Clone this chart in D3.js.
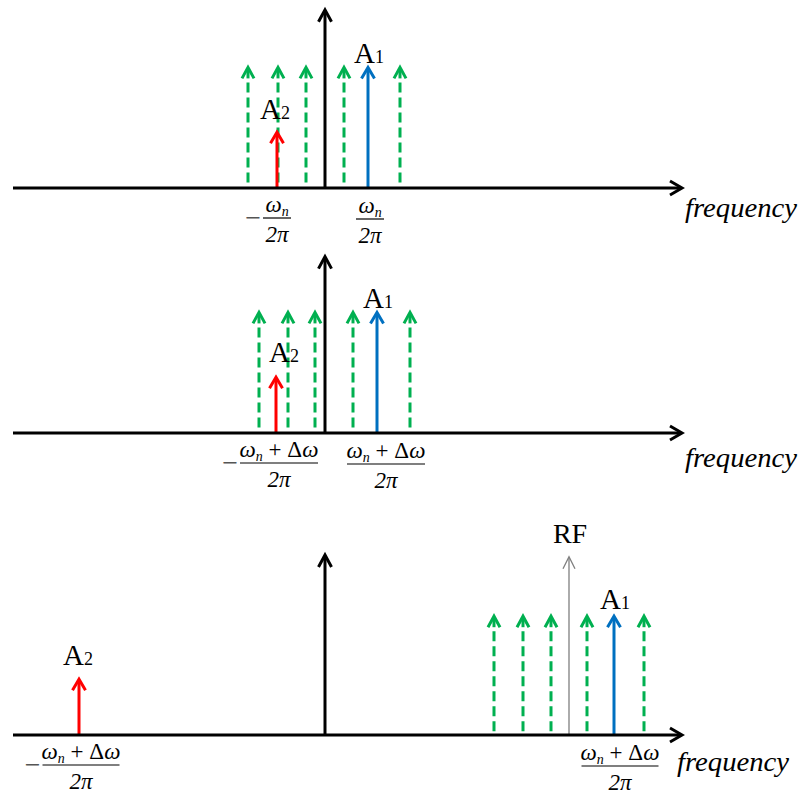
<!DOCTYPE html>
<html>
<head>
<meta charset="utf-8">
<script src="https://cdn.jsdelivr.net/npm/d3@7"></script>
<style>
  body { margin: 0; background: #fff; }
  svg { display: block; }
  text { font-family: "Liberation Serif", "DejaVu Serif", "Times New Roman", serif; }
</style>
</head>
<body>
<script>
// Spectrum data for the three panels (frequency in arbitrary units, amplitude 0..1)
const combFreqs = [
  [-77, -47, -19, 19, 75],
  [-66, -37, -10, 28, 85],
  [169, 198, 226, 262, 319]
];
const combAmp = [0.67, 0.67, 0.66];
const toneA1Freq = [43, 52, 289];
const toneA1Amp = [0.67, 0.67, 0.66];
const toneA2Freq = [-48, -49, -246];
const toneA2Amp = [0.31, 0.31, 0.31];
const rfFreq = [null, null, 244];
const rfAmp = [null, null, 0.99];
const axisAmp = [0.99, 0.98, 1.0];

// Tick labels: ±(numerator)/2π at these frequencies
const tickNegFreq = [-48, -46, -244];
const tickPosFreq = [45, 61, 295];
const tickNumerators = ["ωn", "ωn+Δω", "ωn+Δω"];
const axisTitle = "frequency";

const W = 804, H = 794;
const svg = d3.select("body").append("svg").attr("width", W).attr("height", H);

const x = d3.scaleLinear().domain([-312, 357]).range([13, 682]);
const amp = d3.scaleLinear().domain([0, 1]).range([0, 180]);

const baselines = [188, 433, 735];
const GREEN = "#00B050", RED = "#FF0000", BLUE = "#0070C0", GRAY = "#7F7F7F";

// Vertical arrow with an open chevron head
function vArrow(g, fx, y0, a, color, width, dashed, hw, hh) {
  const px = x(fx), tip = y0 - amp(a);
  if (dashed) {
    g.append("line").attr("x1", px).attr("x2", px)
      .attr("y1", tip + 15).attr("y2", y0)
      .attr("stroke", color).attr("stroke-width", width)
      .attr("stroke-dasharray", "10,5");
    g.append("line").attr("x1", px).attr("x2", px)
      .attr("y1", tip + 1).attr("y2", tip + 11)
      .attr("stroke", color).attr("stroke-width", width);
  } else {
    g.append("line").attr("x1", px).attr("x2", px)
      .attr("y1", tip + 1).attr("y2", y0)
      .attr("stroke", color).attr("stroke-width", width);
  }
  g.append("path")
    .attr("d", `M${px - hw},${tip + hh} L${px},${tip} L${px + hw},${tip + hh}`)
    .attr("fill", "none").attr("stroke", color).attr("stroke-width", width)
    .attr("stroke-linejoin", "miter");
  return { px, tip };
}

function ampLabel(g, px, baseY, sub) {
  const t = g.append("text").attr("x", px).attr("y", baseY)
    .attr("text-anchor", "middle").attr("fill", "#000");
  t.append("tspan").attr("font-size", 29).text("A");
  t.append("tspan").attr("font-size", 18).text(sub);
}

function fraction(g, cx, barY, num, barW, negative) {
  const fg = g.append("g").attr("fill", "#000");
  const t = fg.append("text").attr("x", cx).attr("y", barY - 6)
    .attr("text-anchor", "middle").attr("font-size", 23);
  t.append("tspan").attr("font-style", "italic").text(num[0]);
  t.append("tspan").attr("font-style", "italic").attr("font-size", 14)
    .attr("dy", 4).text(num[1]);
  if (num.length > 2) {
    t.append("tspan").attr("dy", -4).text(" + Δ");
    t.append("tspan").attr("font-style", "italic").text("ω");
  }
  fg.append("line").attr("x1", cx - barW / 2).attr("x2", cx + barW / 2)
    .attr("y1", barY).attr("y2", barY).attr("stroke", "#000").attr("stroke-width", 1.2);
  fg.append("text").attr("x", cx).attr("y", barY + 24)
    .attr("text-anchor", "middle").attr("font-size", 23).attr("font-style", "italic")
    .text("2π");
  if (negative) {
    fg.append("text").attr("x", cx - barW / 2 - 2).attr("y", barY + 9)
      .attr("text-anchor", "end").attr("font-size", 28).attr("fill", "#555").text("−");
  }
}

const a2dx = [-2, 8, -1];
const a2gap = [13, 15, 14];
const a1gap = [4, 4, 7];
const fracBarW = [28, 78, 77];
const titlePos = [[685, 217], [685, 467], [677, 771]];

baselines.forEach((y0, i) => {
  const g = svg.append("g");

  // comb lines
  combFreqs[i].forEach(f => vArrow(g, f, y0, combAmp[i], GREEN, 3, true, 6, 11));

  // RF carrier
  if (rfFreq[i] !== null) {
    const r = vArrow(g, rfFreq[i], y0, rfAmp[i], GRAY, 1.3, false, 6, 12);
    g.append("text").attr("x", r.px + 1).attr("y", r.tip - 14)
      .attr("text-anchor", "middle")
      .attr("font-size", 28).attr("fill", "#000").text("RF");
  }

  // tones
  const a2 = vArrow(g, toneA2Freq[i], y0, toneA2Amp[i], RED, 3, false, 6.5, 11);
  ampLabel(g, a2.px + a2dx[i], a2.tip - a2gap[i], "2");
  const a1 = vArrow(g, toneA1Freq[i], y0, toneA1Amp[i], BLUE, 3, false, 6.5, 11);
  ampLabel(g, a1.px + 1, a1.tip - a1gap[i], "1");

  // frequency axis
  const x0 = x.range()[0], x1 = x.range()[1];
  g.append("line").attr("x1", x0).attr("x2", x1 - 1).attr("y1", y0).attr("y2", y0)
    .attr("stroke", "#000").attr("stroke-width", 3);
  g.append("path").attr("d", `M${x1 - 12},${y0 - 7} L${x1},${y0} L${x1 - 12},${y0 + 7}`)
    .attr("fill", "none").attr("stroke", "#000").attr("stroke-width", 3);

  // amplitude axis at zero frequency
  vArrow(g, 0, y0, axisAmp[i], "#000", 3, false, 6.5, 12);

  // tick labels
  const num = tickNumerators[i];
  const parts = num.includes("+") ? ["ω", "n", "+Δω"] : ["ω", "n"];
  fraction(g, x(tickNegFreq[i]), y0 + 30, parts, fracBarW[i], true);
  fraction(g, x(tickPosFreq[i]), y0 + 31, parts, fracBarW[i], false);

  g.append("text").attr("x", titlePos[i][0]).attr("y", titlePos[i][1])
    .attr("font-style", "italic").attr("font-size", 28)
    .attr("textLength", 112).attr("lengthAdjust", "spacingAndGlyphs")
    .attr("fill", "#000").text(axisTitle);
});
</script>
</body>
</html>
